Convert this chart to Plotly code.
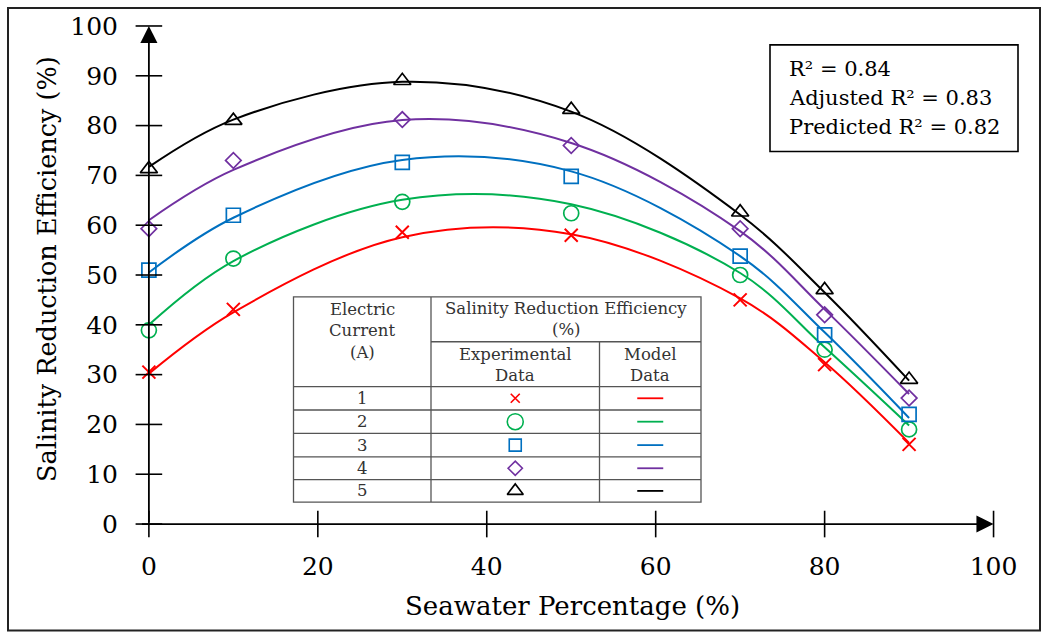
import plotly.graph_objects as go

# Seawater percentage (%) at which each test was run
seawater = [0, 10, 30, 50, 70, 80, 90]

# Experimental salinity reduction efficiency (%) per electric current (A)
exp_1 = [30.5, 43.1, 58.6, 58.0, 45.0, 32.0, 16.0]
exp_2 = [38.9, 53.3, 64.7, 62.4, 50.0, 35.0, 19.0]
exp_3 = [51.0, 62.0, 72.6, 69.8, 53.8, 38.0, 22.0]
exp_4 = [59.3, 73.0, 81.2, 76.0, 59.3, 42.0, 25.3]
exp_5 = [71.3, 81.0, 89.0, 83.2, 62.6, 47.0, 29.0]

# Model predictions at the same seawater percentages
mod_1 = [30.2, 42.5, 57.6, 58.2, 45.3, 32.5, 16.3]
mod_2 = [40.0, 52.8, 65.1, 64.2, 50.4, 35.5, 19.8]
mod_3 = [50.5, 61.5, 73.1, 70.8, 53.8, 38.5, 21.3]
mod_4 = [61.0, 71.1, 81.1, 76.5, 58.8, 43.1, 26.1]
mod_5 = [71.7, 81.2, 88.8, 82.8, 62.1, 46.5, 28.8]

currents = ["1", "2", "3", "4", "5"]
x_ticks = [0, 20, 40, 60, 80, 100]
y_ticks = [0, 10, 20, 30, 40, 50, 60, 70, 80, 90, 100]
fit_stats = ["R\u00b2 = 0.84", "Adjusted R\u00b2 = 0.83", "Predicted R\u00b2 = 0.82"]

experimental = [exp_1, exp_2, exp_3, exp_4, exp_5]
model = [mod_1, mod_2, mod_3, mod_4, mod_5]
colors = ["#FF0000", "#00B050", "#0070C0", "#7030A0", "#000000"]
symbols = ["x-thin-open", "circle-open", "square-open", "diamond-open", "triangle-up-open"]
sizes = [13, 15, 14, 12, 15]
key_sizes = [9, 16, 12, 11, 14]

FONT = "DejaVu Serif"

# plot-area geometry (pixels)
L, R, T, B = 132, 39, 19, 99
W, H = 1041, 633
PW, PH = W - L - R, H - T - B


def px_x(p):
    return (p - L) / PW


def px_y(p):
    return (H - B - p) / PH


fig = go.Figure()

# model curves
for vals, c in zip(model, colors):
    fig.add_trace(go.Scatter(
        x=seawater, y=vals, mode="lines",
        line=dict(color=c, width=2, shape="spline", smoothing=1.0),
        showlegend=False, hoverinfo="skip", cliponaxis=False))

# experimental points
for vals, c, s, sz in zip(experimental, colors, symbols, sizes):
    fig.add_trace(go.Scatter(
        x=seawater, y=vals, mode="markers",
        marker=dict(symbol=s, size=sz, color=c, line=dict(color=c, width=2 if s == "x-thin-open" else 1.7)),
        showlegend=False, cliponaxis=False))

# crossing tick marks on both axes
fig.add_trace(go.Scatter(
    x=x_ticks, y=[0] * len(x_ticks), mode="markers",
    marker=dict(symbol="line-ns", size=19, line=dict(color="black", width=1.6)),
    showlegend=False, hoverinfo="skip", cliponaxis=False))
fig.add_trace(go.Scatter(
    x=[0] * len(y_ticks), y=y_ticks, mode="markers",
    marker=dict(symbol="line-ew", size=19, line=dict(color="black", width=1.6)),
    showlegend=False, hoverinfo="skip", cliponaxis=False))

# ---- key table, laid out on a pixel-space overlay axis ----
tx0, tx1, tx2, tx3 = 293.5, 431, 599.5, 701
ty_top, ty_mid, ty_head = 296, 341, 386
row_edges = [386, 409.5, 433, 456.5, 479.5, 502]
row_mid = [(a + b) / 2 for a, b in zip(row_edges[:-1], row_edges[1:])]
col_exp = (tx1 + tx2) / 2
col_mod = (tx2 + tx3) / 2
col_cur = (tx0 + tx1) / 2

shapes = []
grid = "#555555"
shapes.append(dict(type="rect", xref="x2", yref="y2", x0=tx0, x1=tx3, y0=ty_top, y1=row_edges[-1],
                   line=dict(color=grid, width=1.3), fillcolor="white", layer="below"))
shapes.append(dict(type="line", xref="x2", yref="y2", x0=tx1, x1=tx1, y0=ty_top, y1=row_edges[-1],
                   line=dict(color=grid, width=1.3), layer="below"))
shapes.append(dict(type="line", xref="x2", yref="y2", x0=tx2, x1=tx2, y0=ty_mid, y1=row_edges[-1],
                   line=dict(color=grid, width=1.3), layer="below"))
shapes.append(dict(type="line", xref="x2", yref="y2", x0=tx1, x1=tx3, y0=ty_mid, y1=ty_mid,
                   line=dict(color=grid, width=1.3), layer="below"))
for yy in row_edges[:-1]:
    shapes.append(dict(type="line", xref="x2", yref="y2", x0=tx0, x1=tx3, y0=yy, y1=yy,
                       line=dict(color=grid, width=1.3), layer="below"))

# key symbols and line samples
for c, s, sz, ym in zip(colors, symbols, key_sizes, row_mid):
    fig.add_trace(go.Scatter(
        x=[col_exp], y=[ym], xaxis="x2", yaxis="y2", mode="markers",
        marker=dict(symbol=s, size=sz, color=c, line=dict(color=c, width=1.6)),
        showlegend=False, hoverinfo="skip", cliponaxis=False))
    fig.add_trace(go.Scatter(
        x=[col_mod - 13, col_mod + 13], y=[ym, ym], xaxis="x2", yaxis="y2", mode="lines",
        line=dict(color=c, width=1.8), showlegend=False, hoverinfo="skip", cliponaxis=False))

ann = []
tfont = dict(family=FONT, size=16.5, color="#333333")


def cell(x, y, text):
    ann.append(dict(xref="x2", yref="y2", x=x, y=y, text=text, showarrow=False,
                    xanchor="center", yanchor="middle", font=tfont))


cell(col_cur, 309, "Electric")
cell(col_cur, 330, "Current")
cell(col_cur, 352, "(A)")
cell((tx1 + tx3) / 2, 308, "Salinity Reduction Efficiency")
cell((tx1 + tx3) / 2, 329, "(%)")
cell(col_exp, 354, "Experimental")
cell(col_exp, 375, "Data")
cell(col_mod, 354, "Model")
cell(col_mod, 375, "Data")
for lab, ym in zip(currents, row_mid):
    cell(col_cur, ym, lab)

# fit statistics box
shapes.append(dict(type="rect", xref="paper", yref="paper", x0=px_x(770), x1=px_x(1018),
                   y0=px_y(150), y1=px_y(43), line=dict(color="black", width=1.6), fillcolor="white"))
for txt, yy in zip(fit_stats, [67, 96, 125]):
    ann.append(dict(xref="paper", yref="paper", x=px_x(787), y=px_y(yy), text=txt, showarrow=False,
                    xanchor="left", yanchor="middle", font=dict(family=FONT, size=21, color="black")))

# outer frame
shapes.append(dict(type="rect", xref="paper", yref="paper", x0=px_x(8), x1=px_x(1040),
                   y0=px_y(631), y1=px_y(6), line=dict(color="#222222", width=2)))

# axis lines with arrowheads
ann.append(dict(x=100, y=0, ax=-1, ay=0, xref="x", yref="y", axref="x", ayref="y", text="",
                showarrow=True, arrowhead=2, arrowsize=1.9, arrowwidth=1.8, arrowcolor="black", standoff=0))
ann.append(dict(x=0, y=100, ax=0, ay=0, xref="x", yref="y", axref="x", ayref="y", text="",
                showarrow=True, arrowhead=2, arrowsize=1.9, arrowwidth=1.8, arrowcolor="black", standoff=0))

# axis titles
ann.append(dict(xref="paper", yref="paper", x=px_x(572), y=px_y(606), text="Seawater Percentage (%)",
                showarrow=False, xanchor="center", yanchor="middle",
                font=dict(family=FONT, size=26, color="black")))
ann.append(dict(xref="paper", yref="paper", x=px_x(47), y=px_y(268), text="Salinity Reduction Efficiency (%)",
                showarrow=False, xanchor="center", yanchor="middle", textangle=-90,
                font=dict(family=FONT, size=25.5, color="black")))

fig.update_layout(
    width=W, height=H,
    margin=dict(l=L, r=R, t=T, b=B),
    paper_bgcolor="white", plot_bgcolor="white",
    font=dict(family=FONT, color="black"),
    shapes=shapes, annotations=ann,
    xaxis=dict(range=[-2, 101], tickvals=x_ticks, showgrid=False, zeroline=False, showline=False,
               ticks="outside", ticklen=10, tickcolor="rgba(0,0,0,0)",
               tickfont=dict(family=FONT, size=25, color="black"), fixedrange=True),
    yaxis=dict(range=[-2, 101], tickvals=y_ticks, showgrid=False, zeroline=False, showline=False,
               ticks="outside", ticklen=8, tickcolor="rgba(0,0,0,0)",
               tickfont=dict(family=FONT, size=25, color="black"), fixedrange=True),
    xaxis2=dict(overlaying="x", range=[L, L + PW], visible=False, fixedrange=True),
    yaxis2=dict(overlaying="y", range=[T + PH, T], visible=False, fixedrange=True),
)

fig.write_html("out.html")
